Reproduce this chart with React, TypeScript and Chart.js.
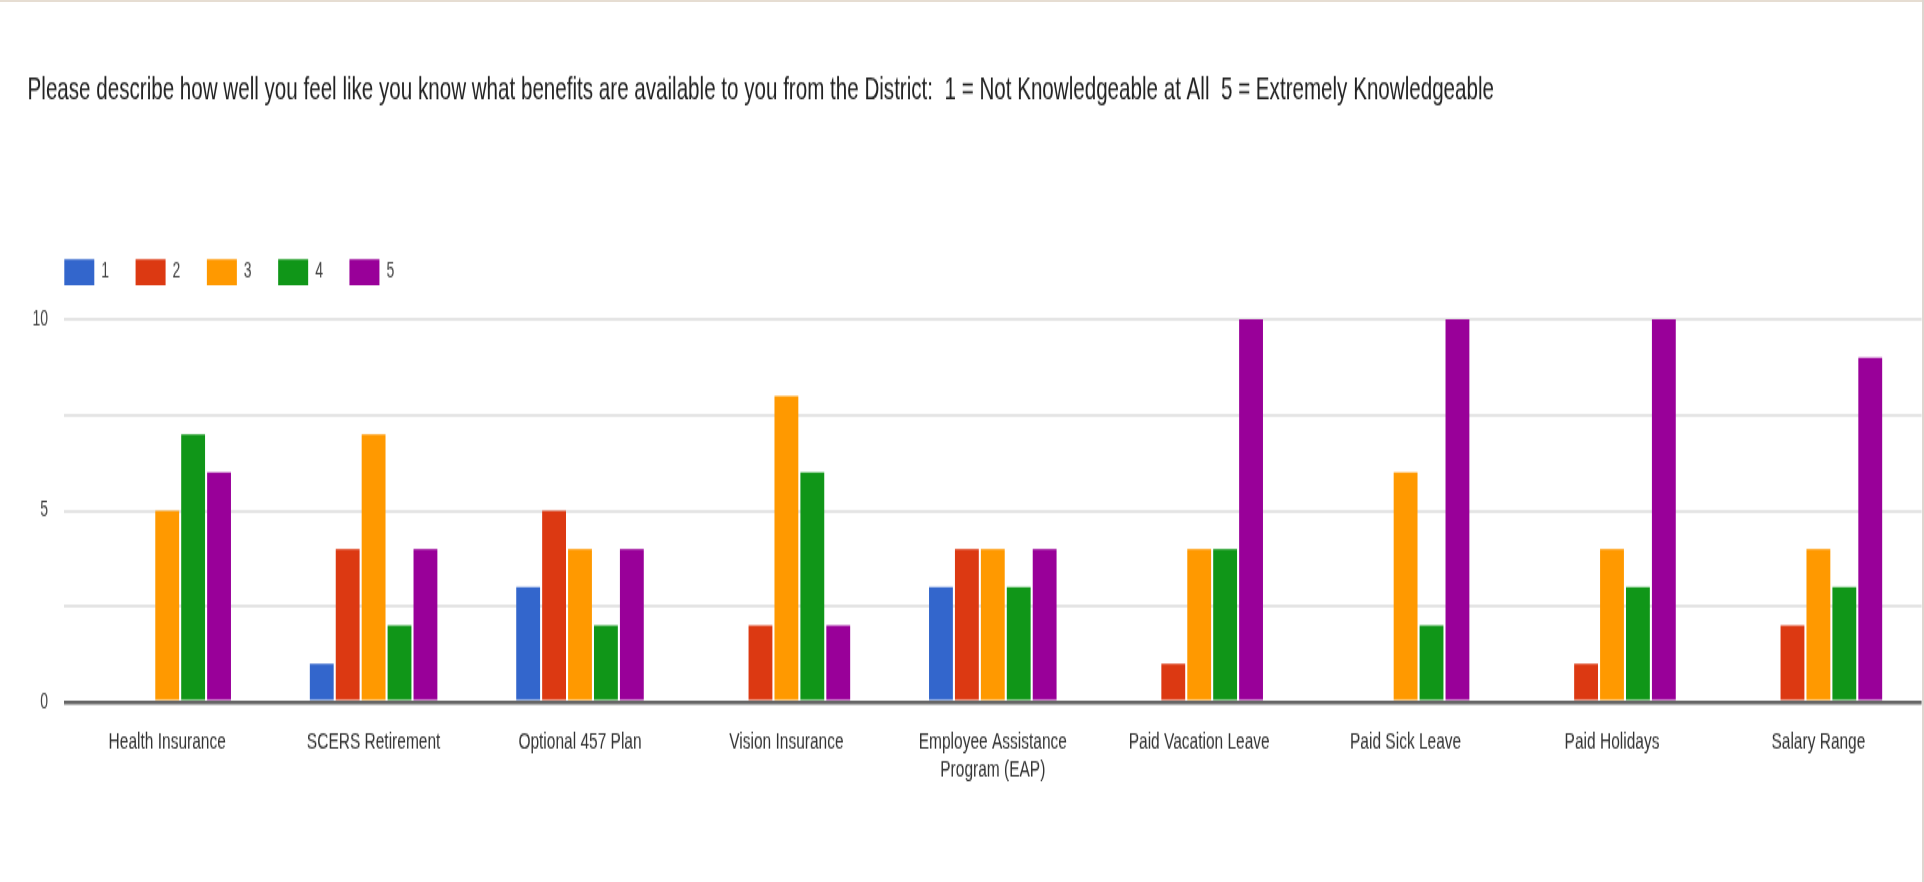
import React, { useEffect, useRef } from 'react';
import { Chart, registerables } from 'chart.js';

Chart.register(...registerables);

const TITLE =
  'Please describe how well you feel like you know what benefits are available to you from the District:  1 = Not Knowledgeable at All  5 = Extremely Knowledgeable';

const categories: (string | string[])[] = [
  'Health Insurance',
  'SCERS Retirement',
  'Optional 457 Plan',
  'Vision Insurance',
  ['Employee Assistance', 'Program (EAP)'],
  'Paid Vacation Leave',
  'Paid Sick Leave',
  'Paid Holidays',
  'Salary Range',
];

const seriesNames = ['1', '2', '3', '4', '5'];
const series1 = [0, 1, 3, 0, 3, 0, 0, 0, 0];
const series2 = [0, 4, 5, 2, 4, 1, 0, 1, 2];
const series3 = [5, 7, 4, 8, 4, 4, 6, 4, 4];
const series4 = [7, 2, 2, 6, 3, 4, 2, 3, 3];
const series5 = [6, 4, 4, 2, 4, 10, 10, 10, 9];
const seriesColors = ['#3366cc', '#dc3912', '#ff9900', '#109618', '#990099'];

const yTickValues = [0, 2.5, 5, 7.5, 10];
const yTickLabels = ['0', '', '5', '', '10'];

const FONT = '"Liberation Sans", Arial, sans-serif';
const SY = 1.55;
const CW = 1960;
const CH = 569;
const PAD_LEFT = 27.6;
const LEGEND_SHIFT = 10.2;

const layoutTweaks = {
  id: 'layoutTweaks',
  beforeLayout(chart: any) {
    const lg = chart.legend;
    if (lg && !lg._gapPatched) {
      const orig = lg.fit;
      lg.fit = function () {
        orig.call(this);
        this.height += 12.1;
      };
      lg._gapPatched = true;
    }
  },
  afterLayout(chart: any) {
    const lg = chart.legend;
    if (lg) {
      lg.left += LEGEND_SHIFT;
      lg.right += LEGEND_SHIFT;
    }
  },
};

export default function App() {
  const ref = useRef<HTMLCanvasElement | null>(null);

  useEffect(() => {
    if (!ref.current) return;
    const all = [series1, series2, series3, series4, series5];
    const chart = new Chart(ref.current, {
      type: 'bar',
      data: {
        labels: categories,
        datasets: all.map((d, i) => ({
          label: seriesNames[i],
          data: d,
          backgroundColor: seriesColors[i],
          borderWidth: 0,
          categoryPercentage: 0.628,
          barPercentage: 0.92,
        })),
      },
      options: {
        responsive: false,
        animation: false,
        devicePixelRatio: 1,
        layout: { padding: { top: 20, left: PAD_LEFT, right: 38.4, bottom: 46.5 } },
        plugins: {
          title: {
            display: true,
            text: TITLE,
            align: 'start',
            color: '#222',
            font: { family: FONT, size: 20.6, weight: 'normal' },
            padding: { top: 26.04, bottom: 69.94 },
          },
          legend: {
            display: true,
            position: 'top',
            align: 'start',
            labels: {
              boxWidth: 30,
              boxHeight: 16.8,
              padding: 26.5,
              color: '#444',
              font: { family: FONT, size: 14 },
            },
          },
          tooltip: { enabled: false },
        },
        scales: {
          x: {
            grid: { display: false, drawTicks: false },
            border: { display: false },
            ticks: {
              color: '#333',
              font: { family: FONT, size: 15.5 },
              padding: 16.2,
              maxRotation: 0,
              autoSkip: false,
            },
          },
          y: {
            min: 0,
            max: 10,
            afterBuildTicks: (axis: any) => {
              axis.ticks = yTickValues.map((v) => ({ value: v }));
            },
            afterFit: (axis: any) => {
              axis.width = 64 - PAD_LEFT;
            },
            grid: {
              drawTicks: false,
              color: (ctx: any) => (ctx.tick && ctx.tick.value === 0 ? '#666666' : '#e4e4e4'),
              lineWidth: (ctx: any) => (ctx.tick && ctx.tick.value === 0 ? 2.6 : 2),
            },
            border: { display: false },
            ticks: {
              color: '#444',
              font: { family: FONT, size: 14 },
              padding: 16,
              callback: (_v: any, i: number) => yTickLabels[i] ?? '',
            },
          },
        },
      },
      plugins: [layoutTweaks],
    });
    return () => chart.destroy();
  }, []);

  return (
    <div
      style={{
        position: 'fixed',
        left: 0,
        top: 0,
        width: 1924,
        height: 882,
        background: '#ffffff',
        overflow: 'hidden',
      }}
    >
      <div style={{ position: 'absolute', left: 0, top: 0, width: 1922, height: 882, overflow: 'hidden' }}>
        <div
          style={{
            width: CW,
            height: CH,
            transform: `scale(1, ${SY})`,
            transformOrigin: '0 0',
          }}
        >
          <canvas ref={ref} width={CW} height={CH} style={{ display: 'block' }} />
        </div>
      </div>
      <div style={{ position: 'absolute', left: 0, top: 0, width: 1924, height: 2, background: '#e6ddd2' }} />
      <div style={{ position: 'absolute', right: 0, top: 0, width: 2, height: 882, background: '#ddd6d0' }} />
    </div>
  );
}
